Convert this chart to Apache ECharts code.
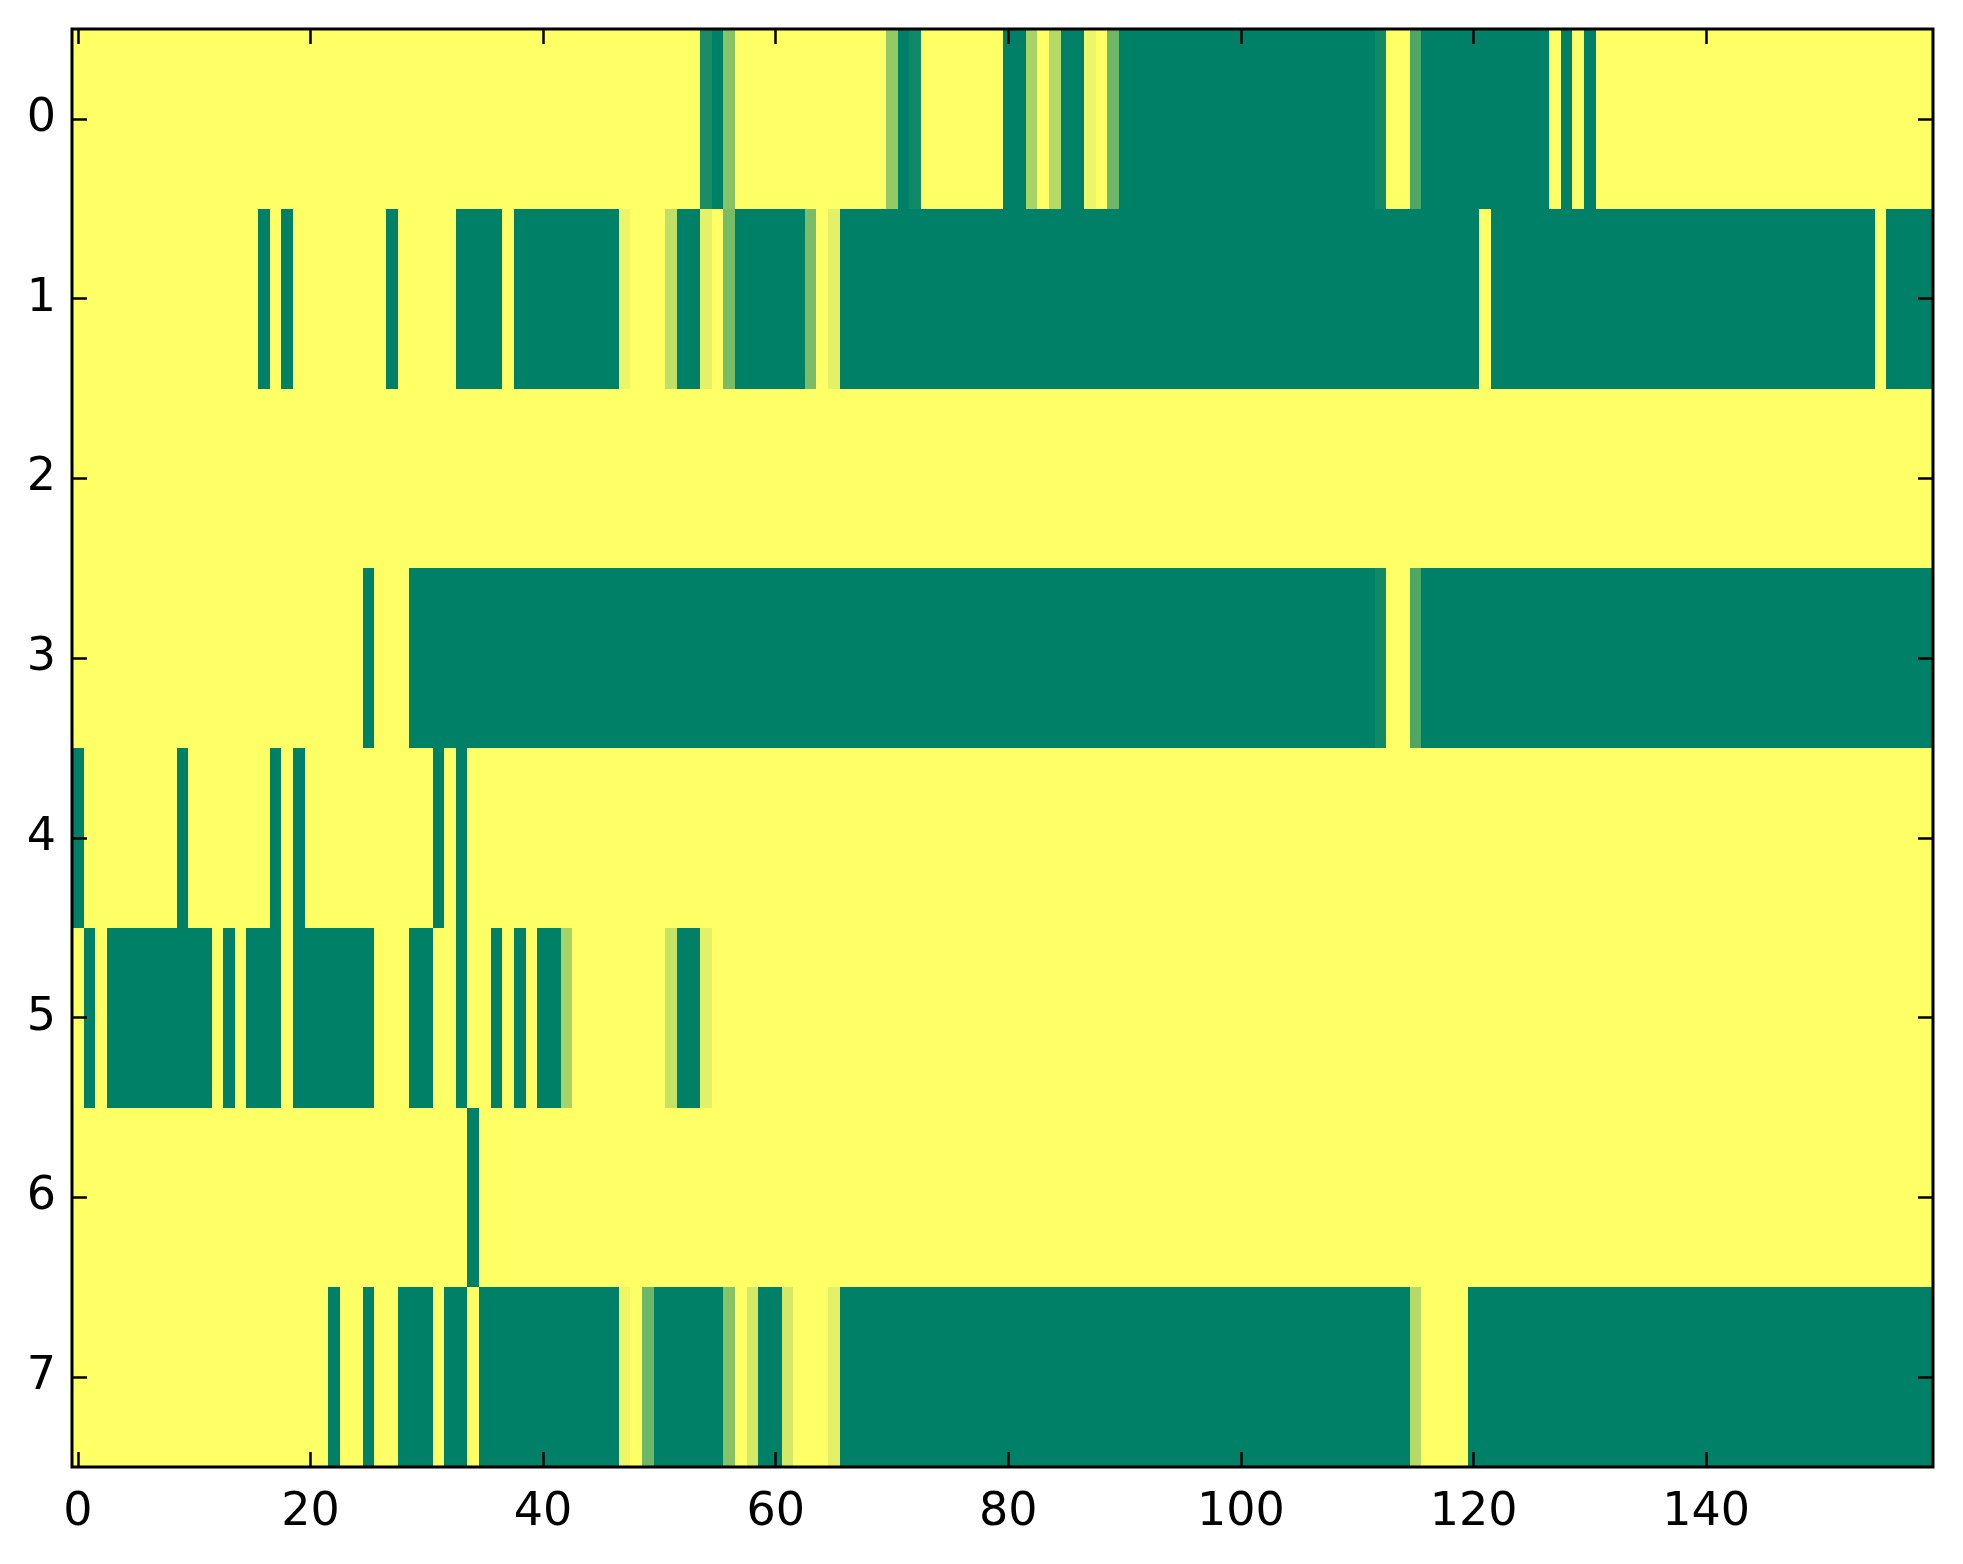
<!DOCTYPE html>
<html>
<head>
<meta charset="utf-8">
<script src="https://cdn.jsdelivr.net/npm/echarts@6/dist/echarts.min.js"></script>
<style>
  html, body { margin: 0; padding: 0; background: #ffffff; }
  #chart { width: 1963px; height: 1564px; }
</style>
</head>
<body>
<div id="chart"></div>
<script>
// Tick labels
const xTickLabels = ['0', '20', '40', '60', '80', '100', '120', '140'];
const yTickLabels = ['0', '1', '2', '3', '4', '5', '6', '7'];

// Cell values per row (1 = yellow end of colormap, 0 = green end)
const row0 = [
  1,1,1,1,1,1,1,1,1,1,1,1,1,1,1,1,1,1,1,1,
  1,1,1,1,1,1,1,1,1,1,1,1,1,1,1,1,1,1,1,1,
  1,1,1,1,1,1,1,1,1,1,1,1,1,1,0.10,0,0.53,1,1,1,
  1,1,1,1,1,1,1,1,1,1,0.58,0,0.07,1,1,1,1,1,1,1,
  0,0,0.66,1,0.71,0,0,0.93,1,0.43,0,0,0,0,0,0,0,0,0,0,
  0,0,0,0,0,0,0,0,0,0,0,0,0.07,1,1,0.31,0,0,0,0,
  0,0,0,0,0,0,0,1,0,1,0,1,1,1,1,1,1,1,1,1,
  1,1,1,1,1,1,1,1,1,1,1,1,1,1,1,1,1,1,1,1
];
const row1 = [
  1,1,1,1,1,1,1,1,1,1,1,1,1,1,1,1,0,1,0,1,
  1,1,1,1,1,1,1,0,1,1,1,1,1,0,0,0,0,1,0,0,
  0,0,0,0,0,0,0,0.93,1,1,1,0.75,0,0,0.90,1,0.47,0,0,0,
  0,0,0,0.48,1,0.89,0,0,0,0,0,0,0,0,0,0,0,0,0,0,
  0,0,0,0,0,0,0,0,0,0,0,0,0,0,0,0,0,0,0,0,
  0,0,0,0,0,0,0,0,0,0,0,0,0,0,0,0,0,0,0,0,
  0,1,0,0,0,0,0,0,0,0,0,0,0,0,0,0,0,0,0,0,
  0,0,0,0,0,0,0,0,0,0,0,0,0,0,0,1,0,0,0,0
];
const row2 = [
  1,1,1,1,1,1,1,1,1,1,1,1,1,1,1,1,1,1,1,1,
  1,1,1,1,1,1,1,1,1,1,1,1,1,1,1,1,1,1,1,1,
  1,1,1,1,1,1,1,1,1,1,1,1,1,1,1,1,1,1,1,1,
  1,1,1,1,1,1,1,1,1,1,1,1,1,1,1,1,1,1,1,1,
  1,1,1,1,1,1,1,1,1,1,1,1,1,1,1,1,1,1,1,1,
  1,1,1,1,1,1,1,1,1,1,1,1,1,1,1,1,1,1,1,1,
  1,1,1,1,1,1,1,1,1,1,1,1,1,1,1,1,1,1,1,1,
  1,1,1,1,1,1,1,1,1,1,1,1,1,1,1,1,1,1,1,1
];
const row3 = [
  1,1,1,1,1,1,1,1,1,1,1,1,1,1,1,1,1,1,1,1,
  1,1,1,1,1,0,1,1,1,0,0,0,0,0,0,0,0,0,0,0,
  0,0,0,0,0,0,0,0,0,0,0,0,0,0,0,0,0,0,0,0,
  0,0,0,0,0,0,0,0,0,0,0,0,0,0,0,0,0,0,0,0,
  0,0,0,0,0,0,0,0,0,0,0,0,0,0,0,0,0,0,0,0,
  0,0,0,0,0,0,0,0,0,0,0,0,0.07,1,1,0.31,0,0,0,0,
  0,0,0,0,0,0,0,0,0,0,0,0,0,0,0,0,0,0,0,0,
  0,0,0,0,0,0,0,0,0,0,0,0,0,0,0,0,0,0,0,0
];
const row4 = [
  0,1,1,1,1,1,1,1,1,0,1,1,1,1,1,1,1,0,1,0,
  1,1,1,1,1,1,1,1,1,1,1,0,1,0,1,1,1,1,1,1,
  1,1,1,1,1,1,1,1,1,1,1,1,1,1,1,1,1,1,1,1,
  1,1,1,1,1,1,1,1,1,1,1,1,1,1,1,1,1,1,1,1,
  1,1,1,1,1,1,1,1,1,1,1,1,1,1,1,1,1,1,1,1,
  1,1,1,1,1,1,1,1,1,1,1,1,1,1,1,1,1,1,1,1,
  1,1,1,1,1,1,1,1,1,1,1,1,1,1,1,1,1,1,1,1,
  1,1,1,1,1,1,1,1,1,1,1,1,1,1,1,1,1,1,1,1
];
const row5 = [
  1,0,1,0,0,0,0,0,0,0,0,0,1,0,1,0,0,0,1,0,
  0,0,0,0,0,0,1,1,1,0,0,1,1,0,1,1,0,1,0,1,
  0,0,0.65,1,1,1,1,1,1,1,1,0.77,0,0,0.89,1,1,1,1,1,
  1,1,1,1,1,1,1,1,1,1,1,1,1,1,1,1,1,1,1,1,
  1,1,1,1,1,1,1,1,1,1,1,1,1,1,1,1,1,1,1,1,
  1,1,1,1,1,1,1,1,1,1,1,1,1,1,1,1,1,1,1,1,
  1,1,1,1,1,1,1,1,1,1,1,1,1,1,1,1,1,1,1,1,
  1,1,1,1,1,1,1,1,1,1,1,1,1,1,1,1,1,1,1,1
];
const row6 = [
  1,1,1,1,1,1,1,1,1,1,1,1,1,1,1,1,1,1,1,1,
  1,1,1,1,1,1,1,1,1,1,1,1,1,1,0,1,1,1,1,1,
  1,1,1,1,1,1,1,1,1,1,1,1,1,1,1,1,1,1,1,1,
  1,1,1,1,1,1,1,1,1,1,1,1,1,1,1,1,1,1,1,1,
  1,1,1,1,1,1,1,1,1,1,1,1,1,1,1,1,1,1,1,1,
  1,1,1,1,1,1,1,1,1,1,1,1,1,1,1,1,1,1,1,1,
  1,1,1,1,1,1,1,1,1,1,1,1,1,1,1,1,1,1,1,1,
  1,1,1,1,1,1,1,1,1,1,1,1,1,1,1,1,1,1,1,1
];
const row7 = [
  1,1,1,1,1,1,1,1,1,1,1,1,1,1,1,1,1,1,1,1,
  1,1,0,1,1,0,1,1,0,0,0,1,0,0,1,0,0,0,0,0,
  0,0,0,0,0,0,0,0.94,1,0.43,0,0,0,0,0,0,0.53,1,0.83,0,
  0,0.83,1,1,1,0.89,0,0,0,0,0,0,0,0,0,0,0,0,0,0,
  0,0,0,0,0,0,0,0,0,0,0,0,0,0,0,0,0,0,0,0,
  0,0,0,0,0,0,0,0,0,0,0,0,0,0,0,0.71,1,1,1,1,
  0,0,0,0,0,0,0,0,0,0,0,0,0,0,0,0,0,0,0,0,
  0,0,0,0,0,0,0,0,0,0,0,0,0,0,0,0,0,0,0,0
];

const rows = [row0, row1, row2, row3, row4, row5, row6, row7];
const nCols = row0.length;
const xCategories = [];
for (let i = 0; i < nCols; i++) xCategories.push(String(i));

const cells = [];
rows.forEach((r, yi) => r.forEach((v, xi) => cells.push([xi, yi, v])));

const tickStep = 20;
const font = { color: '#000', fontFamily: 'DejaVu Sans', fontSize: 46 };
const tickStyle = { color: '#000', width: 2.5 };

function renderCell(params, api) {
  const c = api.coord([api.value(0), api.value(1)]);
  const s = api.size([1, 1]);
  const x0 = Math.round(c[0] - s[0] / 2);
  const x1 = Math.round(c[0] + s[0] / 2);
  const y0 = Math.round(c[1] - s[1] / 2);
  const y1 = Math.round(c[1] + s[1] / 2);
  return {
    type: 'rect',
    shape: { x: x0, y: y0, width: x1 - x0, height: y1 - y0 },
    style: { fill: api.visual('color') }
  };
}

const chart = echarts.init(document.getElementById('chart'), null, { renderer: 'canvas' });
chart.setOption({
  animation: false,
  backgroundColor: '#ffffff',
  grid: {
    left: 72, right: 30, top: 29, bottom: 97,
    show: true, borderColor: '#000', borderWidth: 3, backgroundColor: 'transparent',
    z: 10
  },
  xAxis: [{
    type: 'category', data: xCategories, position: 'bottom',
    axisLine: { show: false },
    axisTick: { show: true, inside: true, length: 15, alignWithLabel: true,
      interval: (i) => i % tickStep === 0, lineStyle: tickStyle },
    axisLabel: { ...font, margin: 23,
      interval: (i) => i % tickStep === 0,
      formatter: (v, i) => xTickLabels[i / tickStep] },
    splitLine: { show: false }, z: 11
  }, {
    type: 'category', data: xCategories, position: 'top',
    axisLine: { show: false },
    axisTick: { show: true, inside: true, length: 15, alignWithLabel: true,
      interval: (i) => i % tickStep === 0, lineStyle: tickStyle },
    axisLabel: { show: false }, splitLine: { show: false }, z: 11
  }],
  yAxis: [{
    type: 'category', data: yTickLabels, inverse: true, position: 'left',
    axisLine: { show: false },
    axisTick: { show: true, inside: true, length: 15, alignWithLabel: true, lineStyle: tickStyle },
    axisLabel: { ...font, margin: 16 },
    splitLine: { show: false }, z: 11
  }, {
    type: 'category', data: yTickLabels, inverse: true, position: 'right',
    axisLine: { show: false },
    axisTick: { show: true, inside: true, length: 15, alignWithLabel: true, lineStyle: tickStyle },
    axisLabel: { show: false }, splitLine: { show: false }, z: 11
  }],
  visualMap: {
    show: false, type: 'continuous', min: 0, max: 1, dimension: 2,
    inRange: { color: ['#008066', '#ffff66'] }
  },
  series: [{
    type: 'custom', xAxisIndex: 0, yAxisIndex: 0,
    renderItem: renderCell,
    data: cells,
    encode: { x: 0, y: 1 },
    emphasis: { disabled: true },
    silent: true
  }]
});
</script>
</body>
</html>
